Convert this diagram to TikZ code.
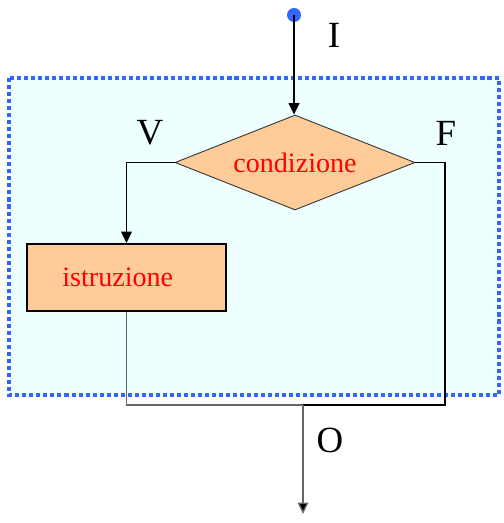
\documentclass[tikz,border=0pt]{standalone}
\usepackage{fontspec}
\setmainfont{Liberation Serif}
\usetikzlibrary{shapes.geometric,arrows.meta}
\definecolor{flowBlue}{RGB}{51,102,255}
\definecolor{flowPeach}{RGB}{255,204,153}
\definecolor{flowIce}{RGB}{238,255,255}
\definecolor{flowRed}{RGB}{255,0,0}
\tikzset{
  blockbox/.style={draw=black,fill=flowPeach,line width=1.1pt,minimum width=3.98cm,minimum height=1.34cm,inner sep=0pt,font=\fontsize{16}{18}\selectfont\color{flowRed}},
  testbox/.style={diamond,aspect=2.5,draw=black!80,fill=flowPeach,line width=0.5pt,minimum width=4.8cm,minimum height=1.9cm,inner sep=0pt,font=\fontsize{16}{18}\selectfont\color{flowRed}},
  flowlabel/.style={inner sep=0pt,font=\fontsize{21}{23}\selectfont},
  flowline/.style={line width=1.1pt,draw=black},
  thinline/.style={line width=0.8pt,draw=black!60},
  flowarrow/.style={-{Triangle[length=6.5pt,width=6pt,fill=black]}}
}
\begin{document}
\begin{tikzpicture}[x=0.02cm,y=-0.02cm]
\useasboundingbox (0,0) rectangle (503,523);
% area of the selection
\draw[flowBlue,fill=flowIce,line width=2.3pt,dash pattern=on 2.3pt off 1.7pt] (9,78) rectangle (499,395);

\fill[flowBlue] (294,15) circle (7);
\coordinate (start) at (294,15);
\node[testbox] (cond) at (295,162.5) {condizione};
\node[blockbox] (istr) at (126.5,277.5) {\hspace*{-0.35cm}istruzione};

\node[flowlabel] (lblI) at (334,35) {I};
\node[flowlabel] (lblV) at (150,133) {V};
\node[flowlabel] (lblF) at (446,133) {F};
\node[flowlabel] (lblO) at (330,440) {O};

\coordinate (rjoin) at (445,405);
\coordinate (mid) at (303,405);
\coordinate (out) at (303,514);

\draw[flowline,flowarrow] (start) -- (start |- cond.north);
\draw[flowline,flowarrow] (cond.west) -| (istr.north);
\draw[thinline] (istr.south) |- (mid);
\draw[flowline] (cond.east) -| (rjoin) -- (mid);
\draw[thinline,flowarrow] (mid) -- (out);
\end{tikzpicture}
\end{document}
